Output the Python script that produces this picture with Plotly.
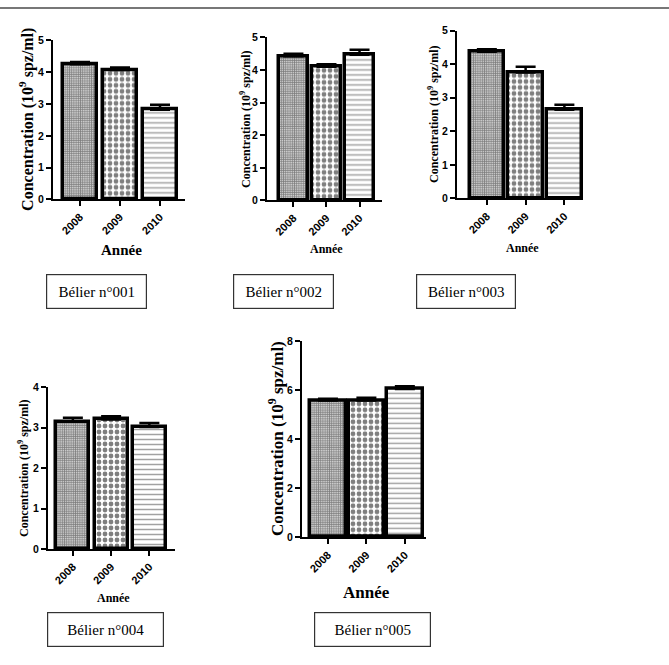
import plotly.graph_objects as go

W, H = 669, 665

years = ["2008", "2009", "2010"]
rams = ["Bélier n°001", "Bélier n°002", "Bélier n°003", "Bélier n°004", "Bélier n°005"]

mean_001 = [4.25, 4.07, 2.82]
err_001 = [0.07, 0.08, 0.16]
mean_002 = [4.42, 4.10, 4.47]
err_002 = [0.08, 0.08, 0.15]
mean_003 = [4.37, 3.75, 2.64]
err_003 = [0.07, 0.17, 0.15]
mean_004 = [3.14, 3.20, 3.01]
err_004 = [0.10, 0.08, 0.10]
mean_005 = [5.57, 5.57, 6.04]
err_005 = [0.07, 0.11, 0.11]

means = [mean_001, mean_002, mean_003, mean_004, mean_005]
errs = [err_001, err_002, err_003, err_004, err_005]
ymax = [5, 5, 5, 4, 8]
ydtick = [1, 1, 1, 1, 2]

# layout in pixels
panels = [
    dict(xl=53, xr=185, yb=197, yt=35, xr0=-0.675, xr1=2.625, bw=0.87,
         ts=16, tx=26, ass=15, ay=51),
    dict(xl=267, xr=382, yb=198, yt=32, xr0=-0.80, xr1=2.68, bw=0.87,
         ts=12, tx=21, ass=12, ay=49),
    dict(xl=457, xr=583, yb=196, yt=25, xr0=-0.77, xr1=2.48, bw=0.89,
         ts=12, tx=23.5, ass=12, ay=50),
    dict(xl=48, xr=175, yb=553, yt=388, xr0=-0.65, xr1=2.67, bw=0.86,
         ts=12, tx=25, ass=12, ay=50),
    dict(xl=302, xr=426, yb=541, yt=341, xr0=-0.675, xr1=2.55, bw=0.92,
         ts=17, tx=26, ass=17, ay=56),
]
boxes = [(96.5, 290.5), (283.5, 290.5), (466, 290.5), (105.5, 635), (372.5, 635)]
box_w = [101, 101, 100, 117, 117]

patterns = [
    dict(shape=".", size=2.2, solidity=0.7, fgcolor="black", bgcolor="white"),
    dict(shape=".", size=6, solidity=0.5, fgcolor="black", bgcolor="white"),
    dict(shape="-", size=5, solidity=0.3, fgcolor="#444", bgcolor="white"),
]

fig = go.Figure()
annotations = []
layout = dict(width=W, height=H, margin=dict(l=0, r=0, t=0, b=0),
              paper_bgcolor="white", plot_bgcolor="white", showlegend=False)

for i, p in enumerate(panels):
    n = "" if i == 0 else str(i + 1)
    xa, ya = "x" + n, "y" + n
    for j in range(3):
        fig.add_trace(go.Bar(
            x=[j], y=[means[i][j]], width=p["bw"],
            error_y=dict(type="data", array=[errs[i][j]], symmetric=False,
                         arrayminus=[0], color="black", thickness=2.5, width=10),
            marker=dict(color="white", line=dict(color="black", width=3.5),
                        pattern=patterns[j]),
            xaxis=xa, yaxis=ya))
    layout["xaxis" + n] = dict(
        domain=[p["xl"] / W, p["xr"] / W], range=[p["xr0"], p["xr1"]],
        tickvals=[0, 1, 2], ticktext=years, tickangle=-45,
        ticks="outside", ticklen=5, tickwidth=2, tickcolor="black",
        showline=True, linewidth=2, linecolor="black", showgrid=False,
        zeroline=False, anchor=ya,
        tickfont=dict(family="Arial, Liberation Sans", size=11,
                      color="black", weight="bold"))
    layout["yaxis" + n] = dict(
        domain=[1 - p["yb"] / H, 1 - p["yt"] / H], range=[0, ymax[i]],
        dtick=ydtick[i], tick0=0,
        ticks="outside", ticklen=5, tickwidth=2, tickcolor="black",
        showline=True, linewidth=2, linecolor="black", showgrid=False,
        zeroline=False, anchor=xa,
        tickfont=dict(family="Arial, Liberation Sans", size=10.5, color="black",
                      weight="bold"))
    annotations.append(dict(
        text="Concentration (10<sup>9</sup> spz/ml)", textangle=-90,
        xref="paper", yref="paper",
        x=(p["xl"] - p["tx"]) / W,
        y=1 - ((p["yb"] + p["yt"]) / 2) / H,
        xanchor="center", yanchor="middle", showarrow=False,
        font=dict(family="Liberation Serif, Times New Roman", size=p["ts"],
                  color="black", weight="bold")))
    annotations.append(dict(
        text="Année", xref="paper", yref="paper",
        x=((p["xl"] + p["xr"]) / 2 + 2) / W,
        y=1 - (p["yb"] + p["ay"]) / H,
        xanchor="center", yanchor="middle", showarrow=False,
        font=dict(family="Liberation Serif, Times New Roman",
                  size=p["ass"], color="black", weight="bold")))
    cx, cy = boxes[i]
    annotations.append(dict(
        text=rams[i], xref="paper", yref="paper", x=cx / W, y=1 - cy / H,
        xanchor="center", yanchor="middle", showarrow=False,
        width=box_w[i] - 4, height=31, bordercolor="#333", borderwidth=1.2,
        borderpad=1,
        font=dict(family="Liberation Serif, Times New Roman", size=15,
                  color="black")))

layout["annotations"] = annotations
layout["shapes"] = [dict(type="line", xref="paper", yref="paper",
                         x0=0, x1=1, y0=1 - 2 / H, y1=1 - 2 / H,
                         line=dict(color="#777", width=2))]
layout["bargap"] = 0
fig.update_layout(**layout)
fig.write_html("out.html")
